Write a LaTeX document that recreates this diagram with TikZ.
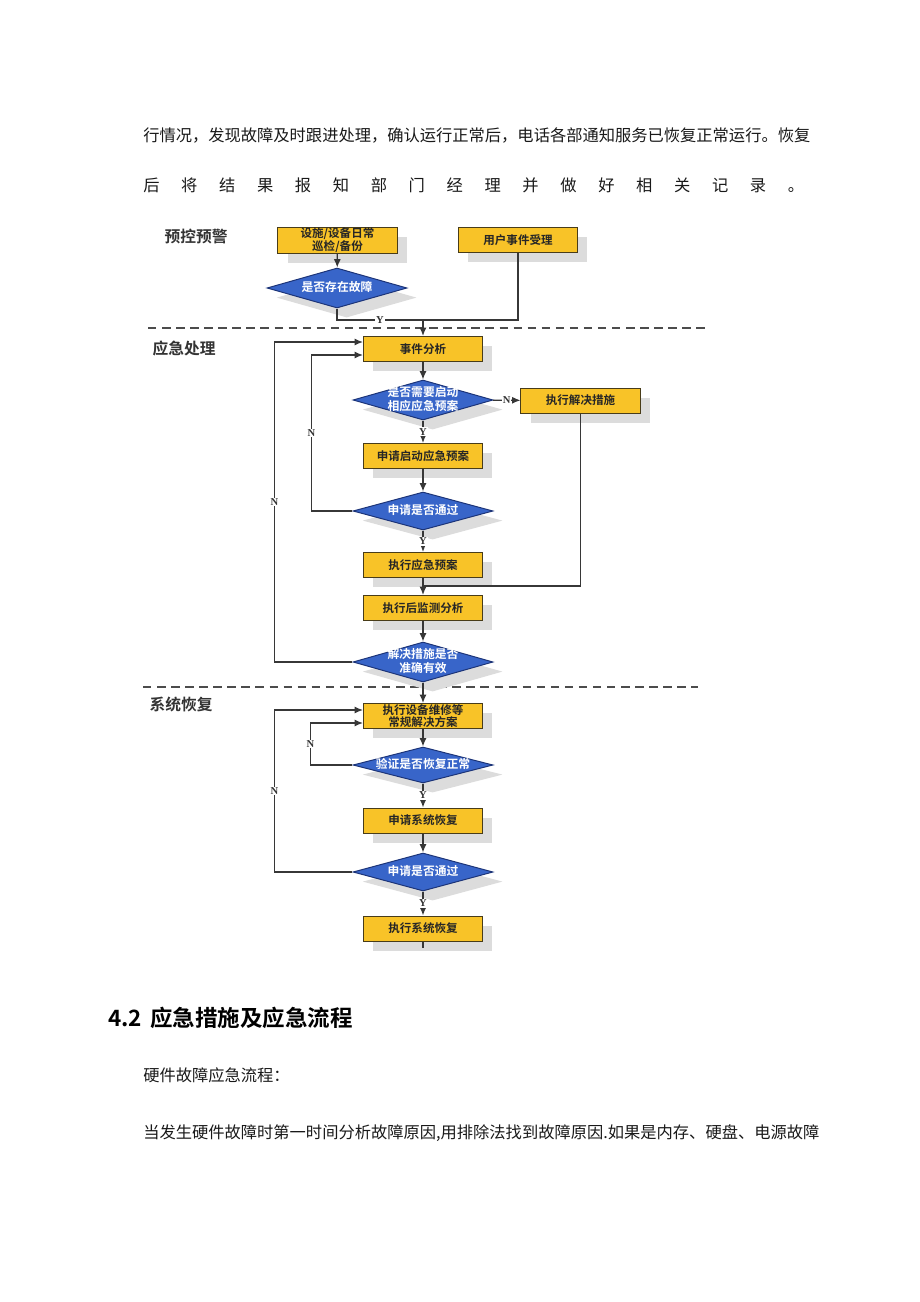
\documentclass[tikz,border=0pt]{standalone}
\usepackage{fontspec}
\setmainfont{Noto Sans CJK SC}[BoldFont={Noto Sans CJK SC Bold}]
\newfontfamily\lblfont{Liberation Serif}
\usepackage{tikz}
\usetikzlibrary{shapes.geometric, arrows, arrows.meta, shadows, calc}

\definecolor{boxyellow}{RGB}{248,195,40}
\definecolor{boxline}{RGB}{72,60,25}
\definecolor{dblue}{RGB}{56,101,201}
\definecolor{dline}{RGB}{28,52,120}
\definecolor{shade}{RGB}{220,220,220}
\definecolor{wire}{RGB}{55,55,55}

\newcommand{\dtext}[1]{\smash{\makebox[0pt]{\raisebox{-0.3em}{\begin{tabular}{@{}c@{}}#1\end{tabular}}}}}

\tikzstyle{arrow} = [wire,line width=0.9pt,->,>={Latex[length=6pt,width=5pt]}]
\tikzstyle{wireline} = [wire,line width=0.9pt]
\tikzstyle{sepline} = [black!70,line width=1.1pt,dash pattern=on 6pt off 4pt]
\tikzstyle{taskbox} = [rectangle, draw=boxline, fill=boxyellow, line width=0.7pt, minimum width=2.975cm, minimum height=0.625cm, inner sep=0pt, align=center, text=black!85, font=\fontsize{8.2}{9}\selectfont\bfseries, drop shadow={shadow xshift=0.24cm, shadow yshift=-0.24cm, fill=shade, opacity=1}]
\tikzstyle{decision} = [diamond, draw=dline, fill=dblue, line width=0.7pt, minimum width=3.5cm, minimum height=1cm, inner sep=0pt, text=white, font=\fontsize{8.4}{9.4}\selectfont\bfseries, drop shadow={shadow xshift=0.24cm, shadow yshift=-0.24cm, fill=shade, opacity=1}]
\tikzstyle{yn} = [fill=white, inner sep=0.6pt, text=black!80, font=\lblfont\bfseries\fontsize{7.5}{8}\selectfont]
\tikzstyle{phase} = [inner sep=0pt, text=black!80, font=\fontsize{11.2}{13}\selectfont\bfseries]
\tikzstyle{bodytext} = [anchor=west, inner sep=0pt, text=black!90, font=\fontsize{11.57}{14}\selectfont]

\begin{document}
\begin{tikzpicture}[x=0.025cm,y=-0.025cm]
  \useasboundingbox (0,0) rectangle (920,1302);

  \node[bodytext] (para1) at (143,135) {行情况，发现故障及时跟进处理，确认运行正常后，电话各部通知服务已恢复正常运行。恢复};
  \node[bodytext] (para2) at (143,185) {\makebox[470pt][s]{后\hfill 将\hfill 结\hfill 果\hfill 报\hfill 知\hfill 部\hfill 门\hfill 经\hfill 理\hfill 并\hfill 做\hfill 好\hfill 相\hfill 关\hfill 记\hfill 录\hfill 。}};

  \node[phase] (ph1) at (196,237) {预控预警};
  \node[phase] (ph2) at (184,348) {应急处理};
  \node[phase] (ph3) at (181,704) {系统恢复};

  \draw[sepline] (148,328) -- (705,328);
  \draw[sepline] (143,687) -- (698,687);

  \node[taskbox, minimum height=0.65cm] (check) at (337.5,240) {设施/设备日常\\巡检/备份};
  \node[taskbox] (user) at (518,240) {用户事件受理};
  \node[decision] (fault) at (337,288) {\dtext{是否存在故障}};
  \coordinate (join1) at (423,320);
  \node[taskbox] (analyse) at (423,349) {事件分析};
  \node[decision] (needplan) at (423,400) {\dtext{是否需要启动\\相应应急预案}};
  \node[taskbox] (solve) at (580.5,400.5) {执行解决措施};
  \node[taskbox] (apply) at (423,456) {申请启动应急预案};
  \node[decision, minimum height=0.95cm] (pass1) at (423,511) {\dtext{申请是否通过}};
  \node[taskbox] (runplan) at (423,565) {执行应急预案};
  \coordinate (join2) at (423,586);
  \node[taskbox] (monitor) at (423,608) {执行后监测分析};
  \node[decision] (valid) at (423,662) {\dtext{解决措施是否\\准确有效}};
  \node[taskbox] (repair) at (423,716) {执行设备维修等\\常规解决方案};
  \node[decision, minimum height=0.9cm] (normal) at (423,765) {\dtext{验证是否恢复正常}};
  \node[taskbox] (applysys) at (423,820.5) {申请系统恢复};
  \node[decision, minimum height=0.95cm] (pass2) at (423,872) {\dtext{申请是否通过}};
  \node[taskbox] (restore) at (423,928.5) {执行系统恢复};
  \coordinate (tail) at (423,948);

  \draw[arrow] (check) -- (fault);
  \draw[wireline] (fault.south) |- node[yn,pos=0.75] {Y} (join1);
  \draw[wireline] (user.south) |- (join1);
  \draw[arrow] (join1) -- (analyse);
  \draw[arrow] (analyse) -- (needplan);
  \draw[arrow] (needplan) -- node[yn] {N} (solve);
  \draw[arrow] (needplan) -- node[yn] {Y} (apply);
  \draw[arrow] (apply) -- (pass1);
  \draw[arrow] (pass1) -- node[yn] {Y} (runplan);
  \draw[arrow] (pass1.west) -- ++(-41,0) |- node[yn,pos=0.25] {N} ($(analyse.west)+(0,6)$);
  \draw[arrow] (valid.west) -- ++(-78,0) |- node[yn,pos=0.25] {N} ($(analyse.west)+(0,-7)$);
  \draw[wireline] (solve.south) |- (join2);
  \draw[arrow] (runplan) -- (monitor);
  \draw[arrow] (monitor) -- (valid);
  \draw[arrow] (valid) -- (repair);
  \draw[arrow] (repair) -- (normal);
  \draw[arrow] (normal.west) -- ++(-42,0) |- node[yn,pos=0.25] {N} ($(repair.west)+(0,7)$);
  \draw[arrow] (normal) -- node[yn] {Y} (applysys);
  \draw[arrow] (applysys) -- (pass2);
  \draw[arrow] (pass2.west) -- ++(-78,0) |- node[yn,pos=0.25] {N} ($(repair.west)+(0,-6)$);
  \draw[arrow] (pass2) -- node[yn] {Y} (restore);
  \draw[wireline] (restore) -- (tail);

  \node[anchor=west, inner sep=0pt, text=black, font=\fontsize{16}{19}\selectfont\bfseries] (head) at (108,1018) {4.2\hspace{0.35em}应急措施及应急流程};
  \node[bodytext] (para3) at (143,1075) {硬件故障应急流程：};
  \node[bodytext] (para4) at (143,1133) {当发生硬件故障时第一时间分析故障原因,用排除法找到故障原因.如果是内存、硬盘、电源故障};
\end{tikzpicture}
\end{document}
